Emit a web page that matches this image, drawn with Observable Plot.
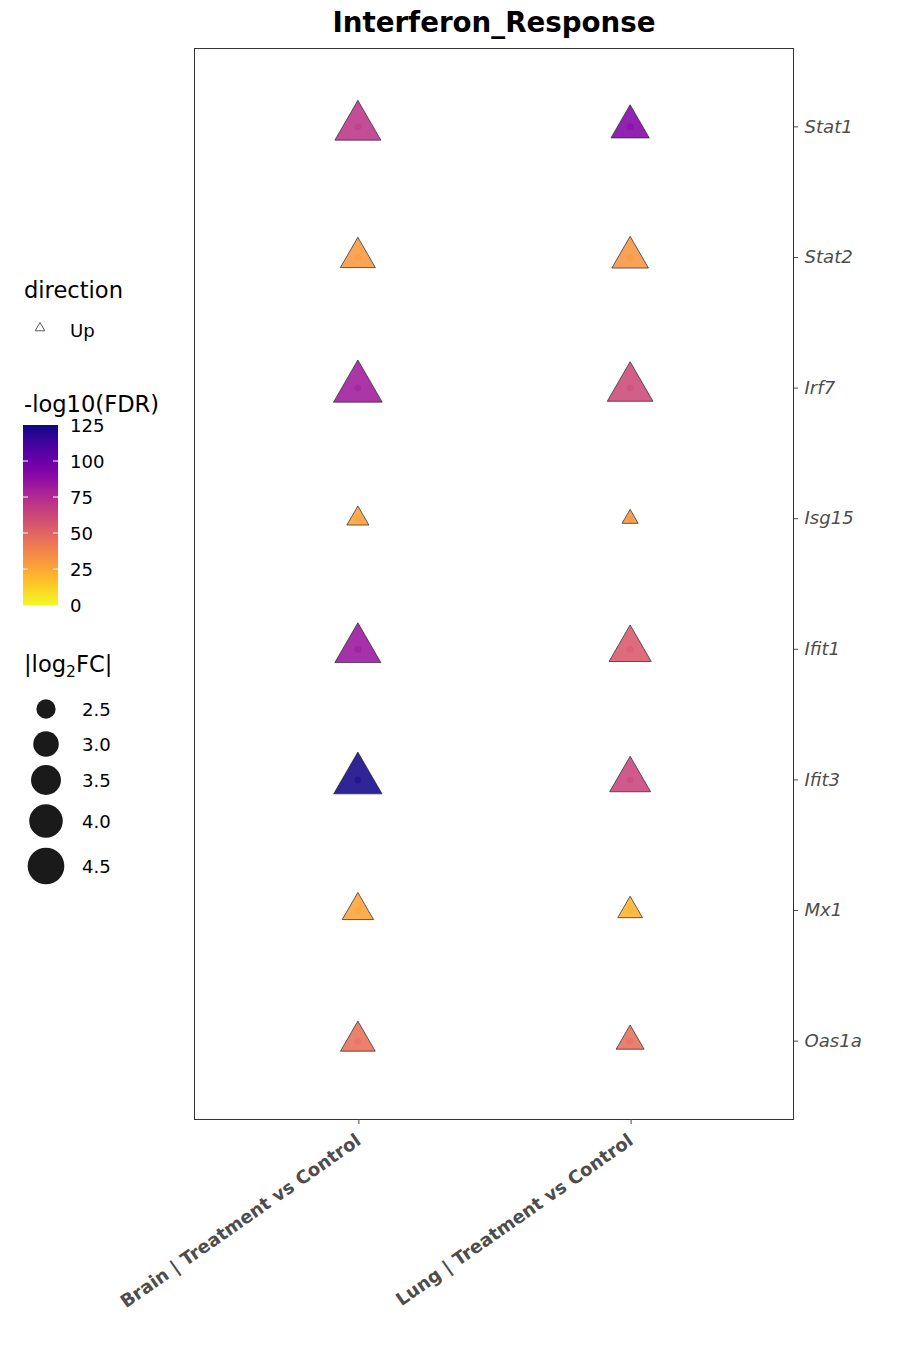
<!DOCTYPE html>
<html><head><meta charset="utf-8">
<script src="https://cdn.jsdelivr.net/npm/d3@7"></script>
<script src="https://cdn.jsdelivr.net/npm/@observablehq/plot@0.6"></script>
<style>
body{margin:0;background:#fff;font-family:"DejaVu Sans",sans-serif;}
#wrap{position:relative;width:900px;height:1350px;background:#fff;}
#wrap > svg{position:absolute;left:0;top:0;}
</style></head><body><div id="wrap"></div>
<script>
// ---- data ----
const genes = ["Stat1","Stat2","Irf7","Isg15","Ifit1","Ifit3","Mx1","Oas1a"];
const comparisons = ["Brain | Treatment vs Control","Lung | Treatment vs Control"];
const brainFDR = [70, 30, 82, 27, 84, 124, 26, 45];
const lungFDR  = [92, 31, 62, 31, 55, 64, 21, 46];
const brainFC  = [4.09, 3.05, 4.41, 2.35, 4.09, 4.36, 2.79, 3.03];
const lungFC   = [3.32, 3.18, 4.06, 2.22, 3.69, 3.57, 2.45, 2.60];
const directions = ["Up"];
const fdrTicks = [0, 25, 50, 75, 100, 125];
const fcTicks = [2.5, 3.0, 3.5, 4.0, 4.5];
const FC_FLOOR = 2.2;
const titleText = "Interferon_Response";

const rows = [];
genes.forEach((g, i) => {
  rows.push({comparison: comparisons[0], gene: g, fdr: brainFDR[i], fc: brainFC[i], direction: directions[0]});
  rows.push({comparison: comparisons[1], gene: g, fdr: lungFDR[i], fc: lungFC[i], direction: directions[0]});
});

const FONT = "DejaVu Sans";
const TXT = 18.1, LTITLE = 22.6;
const chart = Plot.plot({
  width: 900, height: 1350,
  marginLeft: 194, marginRight: 107, marginTop: 48, marginBottom: 231,
  style: {fontFamily: FONT, background: "white"},
  x: {type: "point", domain: comparisons, padding: 0.6, round: false, label: null},
  y: {type: "point", domain: genes, padding: 0.6, round: false, label: null},
  color: {type: "linear", scheme: "plasma", reverse: true, domain: [0, 125]},
  r: {type: "sqrt", domain: [0, 2.3], range: [4.7, 18.35]},
  marks: [
    Plot.frame({stroke: "#333", strokeWidth: 1}),
    Plot.dot(rows, {x: "comparison", y: "gene", r: 3.5, fill: "fdr", fillOpacity: 0.5}),
    Plot.dot(rows, {x: "comparison", y: "gene", r: d => d.fc - FC_FLOOR, symbol: "triangle",
      fill: "fdr", fillOpacity: 0.88, stroke: "#222", strokeWidth: 0.7}),
    Plot.axisY({anchor: "right", tickSize: 4, tickPadding: 7, fontSize: TXT, fontStyle: "italic",
      color: "#4d4d4d", label: null}),
    Plot.axisX({anchor: "bottom", tickSize: 5, tickPadding: 14, dx: 1, tickRotate: -35, fontSize: TXT,
      fontWeight: "bold", color: "#4d4d4d", label: null})
  ]
});
const wrap = document.getElementById("wrap");
wrap.appendChild(chart);

// ---- overlay: title & legends ----
const colorScale = chart.scale("color");
const rScale = chart.scale("r");
const svg = d3.select(wrap).append("svg").attr("width", 900).attr("height", 1350)
  .style("font-family", FONT).style("pointer-events", "none");

svg.append("text").attr("x", 494).attr("y", 31.5).attr("text-anchor", "middle")
  .attr("font-size", 27.7).attr("font-weight", "bold").attr("fill", "#000").text(titleText);

// direction legend
svg.append("text").attr("x", 24).attr("y", 298).attr("font-size", LTITLE).text("direction");
directions.forEach((dname, i) => {
  svg.append("path").attr("d", d3.symbol(d3.symbolTriangle, 40)())
    .attr("transform", `translate(40,${328 + i * 30})`).attr("fill", "none").attr("stroke", "#333").attr("stroke-width", 0.8);
  svg.append("text").attr("x", 70).attr("y", 330 + i * 30).attr("dominant-baseline", "central")
    .attr("font-size", TXT).text(dname);
});

// colour legend
svg.append("text").attr("x", 24).attr("y", 412).attr("font-size", LTITLE).text("-log10(FDR)");
const barTop = 425, barBot = 605, barX = 23, barW = 35;
const fdrY = d3.scaleLinear().domain([0, 125]).range([barBot, barTop]);
const grad = svg.append("defs").append("linearGradient").attr("id", "fdrgrad")
  .attr("x1", 0).attr("y1", 1).attr("x2", 0).attr("y2", 0);
d3.range(0, 1.0001, 0.05).forEach(t => {
  grad.append("stop").attr("offset", t).attr("stop-color", colorScale.apply(t * 125));
});
svg.append("rect").attr("x", barX).attr("y", barTop).attr("width", barW).attr("height", barBot - barTop)
  .attr("fill", "url(#fdrgrad)");
fdrTicks.forEach(v => {
  const y = fdrY(v);
  if (v > 0 && v < 125) {
    svg.append("line").attr("x1", barX).attr("x2", barX + 5).attr("y1", y).attr("y2", y).attr("stroke", "white").attr("stroke-width", 1);
    svg.append("line").attr("x1", barX + barW - 5).attr("x2", barX + barW).attr("y1", y).attr("y2", y).attr("stroke", "white").attr("stroke-width", 1);
  }
  svg.append("text").attr("x", 70).attr("y", y + 0.5).attr("dominant-baseline", "central")
    .attr("font-size", TXT).text(v);
});

// size legend
const st = svg.append("text").attr("x", 24).attr("y", 672).attr("font-size", LTITLE);
st.append("tspan").text("|log");
st.append("tspan").attr("font-size", 15.5).attr("dy", 5).text("2");
st.append("tspan").attr("dy", -5).text("FC|");
const sizeYs = [709, 744, 780, 821, 866];
fcTicks.forEach((v, i) => {
  const r = rScale.apply(v - FC_FLOOR);
  svg.append("circle").attr("cx", 46).attr("cy", sizeYs[i]).attr("r", r).attr("fill", "#1a1a1a");
  svg.append("text").attr("x", 82).attr("y", sizeYs[i] + 0.5).attr("dominant-baseline", "central")
    .attr("font-size", TXT).text(v.toFixed(1));
});
</script></body></html>
